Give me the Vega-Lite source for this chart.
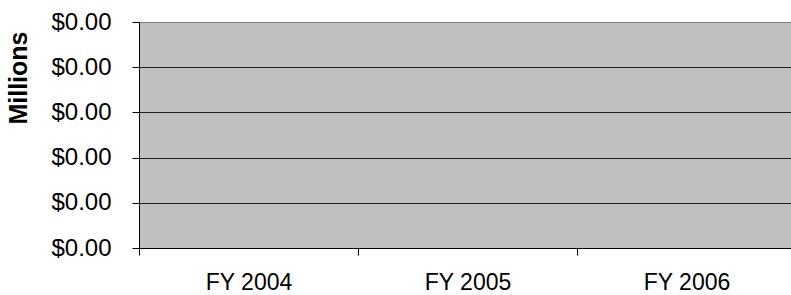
{
  "$schema": "https://vega.github.io/schema/vega-lite/v6.json",
  "autosize": {"type": "none"},
  "width": 653,
  "height": 226,
  "padding": {"left": 139, "top": 22, "right": 0, "bottom": 47},
  "background": "white",
  "config": {
    "font": "Liberation Sans",
    "view": {"fill": "#c0c0c0", "stroke": "#808080", "strokeWidth": 1}
  },
  "data": {
    "values": [
      {"year": "FY 2004", "amount": 0},
      {"year": "FY 2005", "amount": 0},
      {"year": "FY 2006", "amount": 0}
    ]
  },
  "mark": {"type": "bar", "color": "#333399"},
  "encoding": {
    "x": {
      "field": "year",
      "type": "nominal",
      "sort": null,
      "scale": {"range": [0, 657], "paddingInner": 0, "paddingOuter": 0},
      "axis": {
        "title": null,
        "labelAngle": 0,
        "labelFont": "Liberation Sans",
        "labelFontSize": 23,
        "labelColor": "#000000",
        "labelPadding": 16,
        "tickBand": "extent",
        "tickSize": 7,
        "tickColor": "#000000",
        "domainColor": "#000000",
        "grid": false
      }
    },
    "y": {
      "field": "amount",
      "type": "quantitative",
      "scale": {"domain": [0, 5], "nice": false, "zero": true},
      "axis": {
        "title": "Millions",
        "titleFont": "Liberation Sans",
        "titleFontSize": 25,
        "titleFontWeight": "bold",
        "titleColor": "#000000",
        "titlePadding": 19,
        "titleAnchor": "end",
        "titleY": 9,
        "values": [0, 1, 2, 3, 4, 5],
        "labelExpr": "'$0.00'",
        "labelFont": "Liberation Sans",
        "labelFontSize": 24,
        "labelColor": "#000000",
        "labelPadding": 21,
        "tickSize": 7,
        "tickColor": "#000000",
        "domainColor": "#000000",
        "grid": true,
        "gridColor": {"condition": {"test": "datum.value == 5", "value": "#808080"}, "value": "#222222"},
        "gridOpacity": 1
      }
    }
  }
}
